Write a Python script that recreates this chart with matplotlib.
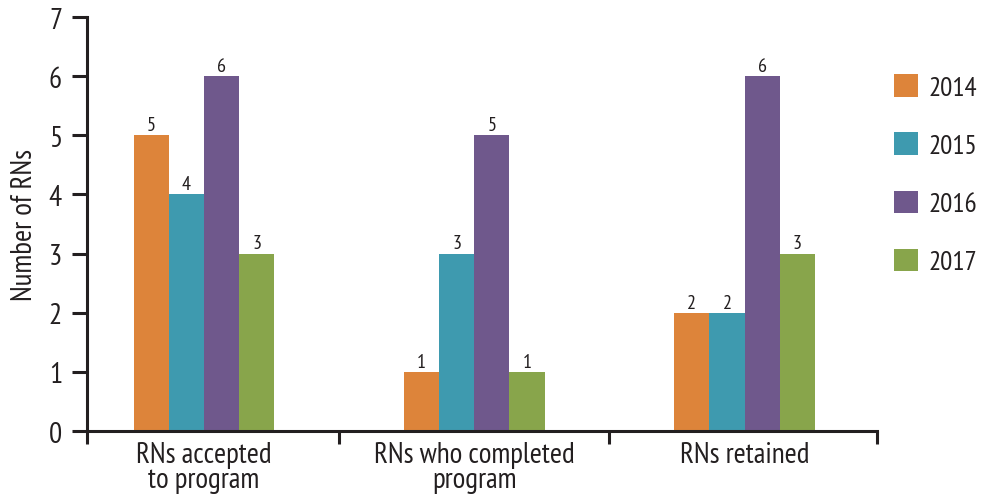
import matplotlib
matplotlib.use("Agg")
import matplotlib.pyplot as plt
import numpy as np
from matplotlib.patches import Patch
from matplotlib import font_manager as fm

# Prefer a regular-weight narrow sans face; fall back to Open Sans.
preferred = ['PT Sans Narrow', 'Fira Sans Condensed', 'Roboto Condensed',
             'Asap Condensed', 'Encode Sans Condensed', 'Barlow Semi Condensed',
             'Ubuntu Condensed', 'Archivo Narrow', 'Open Sans']
installed = {f.name for f in fm.fontManager.ttflist}
face = next((n for n in preferred if n in installed), 'DejaVu Sans')
plt.rcParams['font.family'] = [face, 'DejaVu Sans']

categories = ["RNs accepted\nto program", "RNs who completed\nprogram", "RNs retained"]
years = ["2014", "2015", "2016", "2017"]
values = {
    "2014": [5, 1, 2],
    "2015": [4, 3, 2],
    "2016": [6, 5, 6],
    "2017": [3, 1, 3],
}
colors = ["#DD843A", "#3E9AAF", "#6F588C", "#88A54B"]
yticks = [0, 1, 2, 3, 4, 5, 6, 7]

ink = "#231f20"
fig = plt.figure(figsize=(9.84, 5.02), dpi=100)
ax = fig.add_axes([0.0884, 0.1394, 0.8026, 0.8246])

x = np.arange(len(categories))
bw = 0.13
for i, (yr, col) in enumerate(zip(years, colors)):
    pos = x + (i - 1.5) * bw
    bars = ax.bar(pos, values[yr], width=bw, color=col, zorder=2)
    for b, v in zip(bars, values[yr]):
        if v > 0:
            ax.text(b.get_x() + b.get_width() / 2, v + 0.02, str(v),
                    ha="center", va="bottom", fontsize=14.5, color=ink)

xl, xr = -0.433, 2.489
ax.set_xlim(xl, xr)
ax.set_ylim(0, 7)
ax.set_yticks(yticks)
ax.set_yticklabels([str(t) for t in yticks], fontsize=21, color=ink)

ax.set_xticks(x)
ax.set_xticklabels(categories, fontsize=21, color=ink, linespacing=0.92)
ax.tick_params(axis="x", which="major", length=0, pad=7)
ax.set_xticks([xl, 0.5, 1.5, xr], minor=True)
ax.tick_params(axis="x", which="minor", length=9, width=2.2, color=ink, direction="out")
ax.tick_params(axis="y", length=11, width=2.2, color=ink, pad=7)

for s in ["top", "right"]:
    ax.spines[s].set_visible(False)
for s in ["left", "bottom"]:
    ax.spines[s].set_linewidth(2.2)
    ax.spines[s].set_color(ink)
ax.spines["bottom"].set_zorder(3)

ax.set_ylabel("Number of RNs", fontsize=21, color=ink, labelpad=8)

handles = [Patch(facecolor=c, edgecolor="none") for c in colors]
fig.legend(handles, years, loc="upper left", bbox_to_anchor=(0.9, 0.866),
           frameon=False, fontsize=19.5, handlelength=0.9, handleheight=0.9,
           handletextpad=0.4, labelspacing=1.2, labelcolor=ink,
           borderaxespad=0, borderpad=0.3)

fig.savefig("out.png", dpi=100)
